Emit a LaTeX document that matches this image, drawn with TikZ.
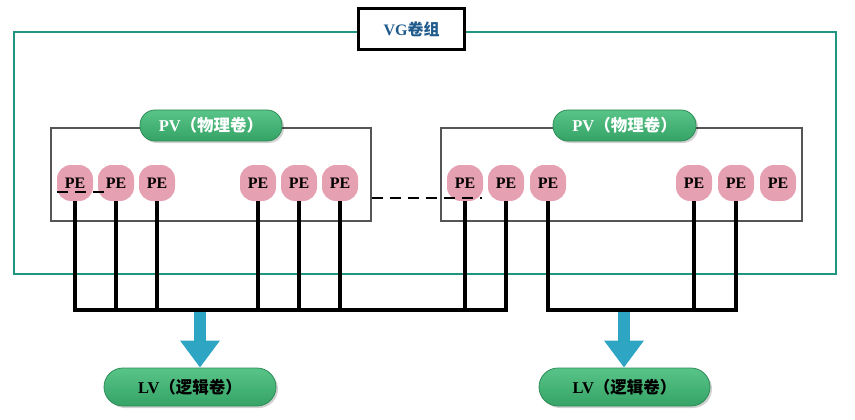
\documentclass[tikz,border=0pt]{standalone}
\usepackage{fontspec}
\setmainfont{Liberation Serif}
\newfontfamily\cjk{Noto Sans CJK SC}
\usetikzlibrary{arrows.meta,shadows}
\definecolor{outerteal}{RGB}{32,150,128}
\definecolor{vgblue}{RGB}{31,90,140}
\definecolor{pvgray}{RGB}{85,85,85}
\definecolor{pepink}{RGB}{229,160,178}
\definecolor{pilltop}{RGB}{88,196,136}
\definecolor{pillbot}{RGB}{54,163,102}
\definecolor{pillborder}{RGB}{45,140,88}
\definecolor{arrowblue}{RGB}{47,165,196}
\begin{document}
\begin{tikzpicture}[x=1pt,y=-1pt,
  vgbox/.style={draw=black,line width=3.5pt,fill=white,minimum width=106pt,minimum height=41pt,inner sep=0pt,
    text=vgblue,font=\fontsize{16}{16}\selectfont\bfseries},
  pvbox/.style={draw=pvgray,line width=1.5pt,inner sep=0pt},
  greenpill/.style={draw=pillborder,line width=0.8pt,rounded corners=15pt,top color=pilltop,bottom color=pillbot,
    inner sep=0pt,font=\fontsize{16.5}{16.5}\selectfont\bfseries,
    drop shadow={shadow xshift=2pt,shadow yshift=-2pt,fill=black,opacity=0.18}},
  pe/.style={fill=pepink,rounded corners=14pt,minimum width=36pt,minimum height=36pt,inner sep=0pt,
    font=\fontsize{16}{16}\selectfont\bfseries},
  wire/.style={line width=3.2pt,black},
  dashline/.style={line width=1.3pt,black,dash pattern=on 11pt off 7pt},
  blockarrow/.style={line width=12pt,arrowblue,-{Triangle[width=38pt,length=27pt]}}
]
\useasboundingbox (0,0) rectangle (855,420);
% outer VG frame
\draw[outerteal,line width=1.8pt] (14,32) rectangle (836,274);
\node[vgbox] (vg) at (411.5,29) {VG{\cjk 卷组}};
% PV boxes
\node[pvbox,minimum width=320pt,minimum height=93pt] (pv1) at (211,174.5) {};
\node[pvbox,minimum width=361pt,minimum height=93pt] (pv2) at (621.5,174.5) {};
\node[greenpill,minimum width=142pt,minimum height=31pt,text=white]
  (pvl1) at (211,125.5) {PV{\cjk （物理卷）}};
\node[greenpill,minimum width=143pt,minimum height=31pt,text=white]
  (pvl2) at (624.5,125.5) {PV{\cjk （物理卷）}};
% PE nodes
\foreach \n/\x in {1/75,2/116,3/157,4/258,5/299,6/340,7/465,8/506,9/548,10/694,11/736,12/778}
  \node[pe] (pe\n) at (\x,183) {PE};
% dashed lines
\coordinate (dl1) at (57,192);
\coordinate (dl2) at (105,192);
\coordinate (dr2) at (482,198);
\draw[dashline] (dl1) -- (dl2);
\draw[dashline] (pv1.east |- dr2) -- (dr2);
% buses
\coordinate (bus) at (0,310);
\foreach \n in {1,...,8}
  \draw[wire] (pe\n.south) -- (pe\n |- bus);
\draw[wire,line cap=rect] (pe1 |- bus) -- (pe8 |- bus);
\foreach \n in {9,10,11}
  \draw[wire] (pe\n.south) -- (pe\n |- bus);
\draw[wire,line cap=rect] (pe9 |- bus) -- (pe11 |- bus);
% LV nodes
\node[greenpill,minimum width=172pt,minimum height=38pt,text=black,rounded corners=19pt]
  (lv1) at (190,387) {LV{\cjk （逻辑卷）}};
\node[greenpill,minimum width=171pt,minimum height=38pt,text=black,rounded corners=19pt]
  (lv2) at (624.5,387) {LV{\cjk （逻辑卷）}};
% arrows
\coordinate (a1) at (200,312);
\coordinate (a2) at (624,312);
\draw[blockarrow] (a1) -- (a1 |- lv1.north);
\draw[blockarrow] (a2) -- (a2 |- lv2.north);
\end{tikzpicture}
\end{document}
